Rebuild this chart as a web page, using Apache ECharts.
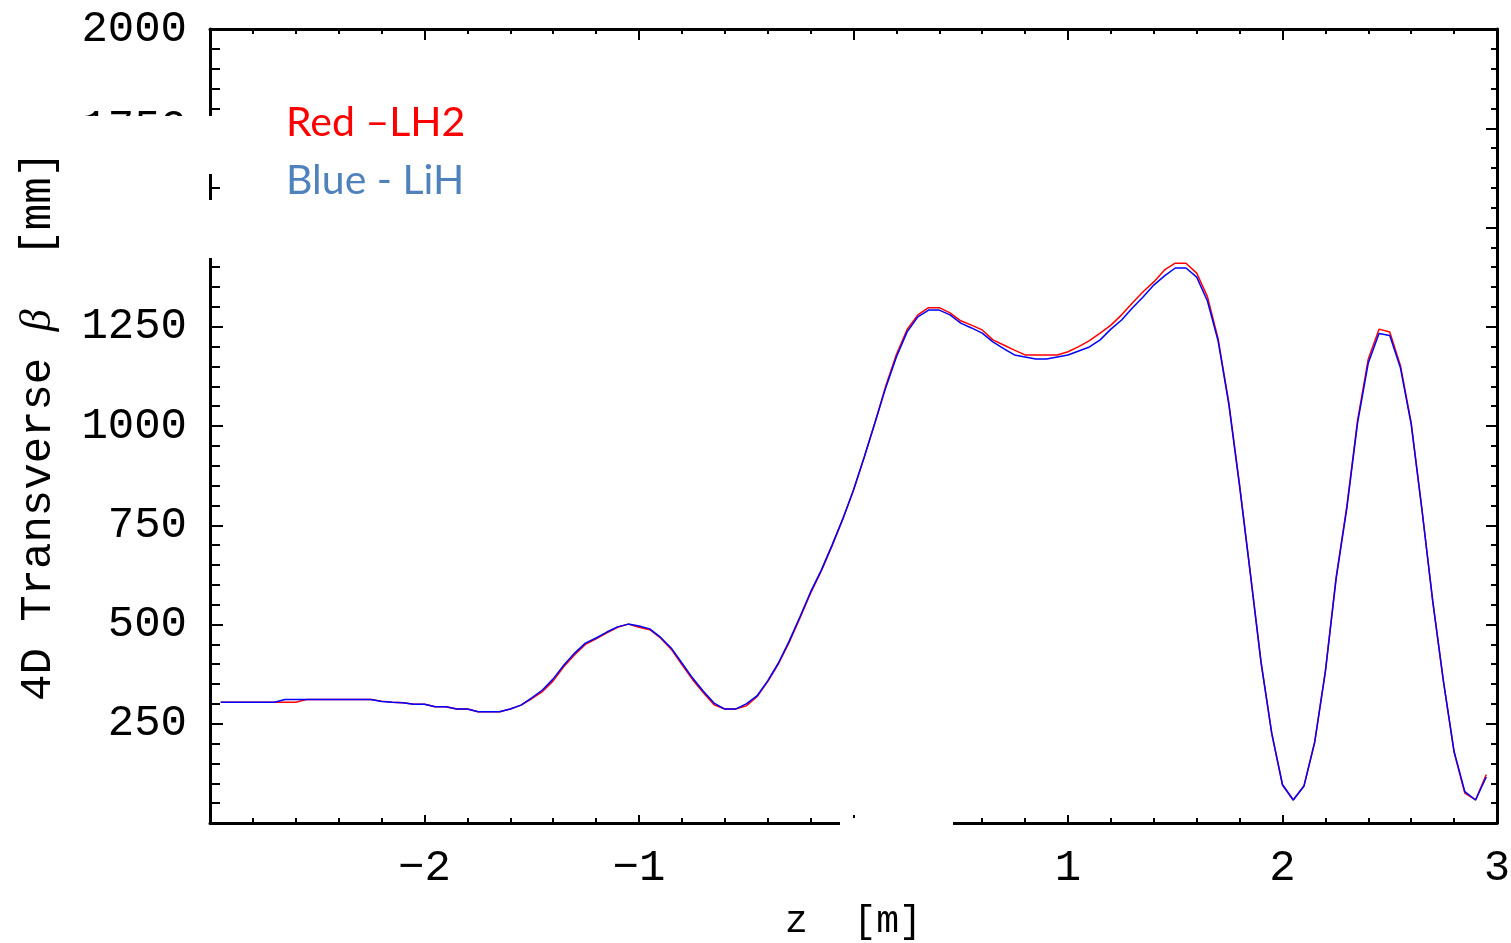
<!DOCTYPE html>
<html>
<head>
<meta charset="utf-8">
<script src="https://cdn.jsdelivr.net/npm/echarts@6/dist/echarts.min.js"></script>
<style>
  html, body { margin: 0; padding: 0; background: #fff; }
  #chart { width: 1511px; height: 943px; }
</style>
</head>
<body>
<div id="chart"></div>
<script>
// z positions [m]
const zValues = [
  -2.95, -2.90, -2.85, -2.80, -2.75, -2.70, -2.65, -2.60, -2.55, -2.50,
  -2.45, -2.40, -2.35, -2.30, -2.25, -2.20, -2.15, -2.10, -2.05, -2.00,
  -1.95, -1.90, -1.85, -1.80, -1.75, -1.70, -1.65, -1.60, -1.55, -1.50,
  -1.45, -1.40, -1.35, -1.30, -1.25, -1.20, -1.15, -1.10, -1.05, -1.00,
  -0.95, -0.90, -0.85, -0.80, -0.75, -0.70, -0.65, -0.60, -0.55, -0.50,
  -0.45, -0.40, -0.35, -0.30, -0.25, -0.20, -0.15, -0.10, -0.05, 0.00,
  0.05, 0.10, 0.15, 0.20, 0.25, 0.30, 0.35, 0.40, 0.45, 0.50,
  0.55, 0.60, 0.65, 0.70, 0.75, 0.80, 0.85, 0.90, 0.95, 1.00,
  1.05, 1.10, 1.15, 1.20, 1.25, 1.30, 1.35, 1.40, 1.45, 1.50,
  1.55, 1.60, 1.65, 1.70, 1.75, 1.80, 1.85, 1.90, 1.95, 2.00,
  2.05, 2.10, 2.15, 2.20, 2.25, 2.30, 2.35, 2.40, 2.45, 2.50,
  2.55, 2.60, 2.65, 2.70, 2.75, 2.80, 2.85, 2.90, 2.95
];

// beta [mm], red = LH2
const betaLH2 = [
  304, 304, 304, 304, 304, 304, 304, 304, 311, 311,
  311, 311, 311, 311, 311, 307, 304, 303, 299, 299,
  293, 293, 287, 287, 280, 280, 280, 287, 297, 313,
  331, 358, 394, 424, 450, 464, 479, 493, 501, 493,
  487, 466, 438, 399, 361, 328, 298, 287, 287, 295,
  318, 356, 401, 455, 516, 579, 635, 698, 765, 838,
  921, 1008, 1100, 1180, 1243, 1280, 1298, 1298, 1285, 1265,
  1254, 1242, 1217, 1204, 1191, 1179, 1179, 1179, 1179, 1187,
  1200, 1215, 1234, 1254, 1280, 1310, 1338, 1363, 1393, 1410,
  1410, 1385, 1326, 1219, 1058, 852, 630, 406, 226, 95,
  58, 93, 204, 384, 619, 798, 1014, 1169, 1244, 1237,
  1152, 1008, 791, 561, 358, 178, 75, 58, 122
];

// beta [mm], blue = LiH
const betaLiH = [
  304, 304, 304, 304, 304, 304, 311, 311, 311, 311,
  311, 311, 311, 311, 311, 306, 304, 303, 299, 299,
  293, 293, 287, 287, 280, 280, 280, 287, 297, 315,
  335, 363, 398, 428, 453, 466, 481, 494, 501, 496,
  489, 468, 441, 403, 365, 332, 302, 287, 287, 300,
  320, 358, 403, 458, 519, 582, 637, 700, 766, 839,
  922, 1008, 1096, 1174, 1237, 1275, 1292, 1292, 1280, 1259,
  1247, 1234, 1212, 1195, 1179, 1174, 1169, 1169, 1174, 1179,
  1189, 1199, 1217, 1244, 1267, 1297, 1325, 1355, 1378, 1398,
  1398, 1375, 1315, 1214, 1054, 848, 628, 404, 225, 97,
  58, 93, 203, 381, 615, 793, 1008, 1159, 1233, 1228,
  1146, 1004, 789, 560, 358, 180, 79, 58, 116
];

const xTickLabels = ['', '\u22122', '\u22121', '0', '1', '2', '3'];
const yTickLabels = ['', '250', '500', '750', '1000', '1250', '1500', '1750', '2000'];

const monoFont = '"Liberation Mono", "DejaVu Sans Mono", monospace';

function frameLine(w) {
  return { show: true, onZero: false, lineStyle: { color: '#000', width: w } };
}

const chart = echarts.init(document.getElementById('chart'));
chart.setOption({
  animation: false,
  backgroundColor: '#fff',
  grid: {
    left: 210, top: 29, width: 1287, height: 794,
    containLabel: false,
    outerBoundsMode: 'none'
  },
  xAxis: [{
    type: 'value',
    position: 'bottom',
    min: -3, max: 3, interval: 1,
    axisLine: frameLine(3),
    axisTick: { inside: true, length: 8, lineStyle: { color: '#000', width: 2 } },
    minorTick: { show: true, splitNumber: 5, length: 5, lineStyle: { color: '#000', width: 2 } },
    splitLine: { show: false },
    axisLabel: {
      margin: 23,
      fontFamily: monoFont,
      fontSize: 44,
      color: '#000',
      formatter: v => xTickLabels[Math.round(v) + 3]
    },
    name: 'z  [m]',
    nameLocation: 'middle',
    nameGap: 80,
    nameTextStyle: { fontFamily: monoFont, fontSize: 38, color: '#000' }
  }, {
    type: 'value',
    position: 'top',
    min: -3, max: 3, interval: 1,
    axisLine: frameLine(3),
    axisTick: { inside: true, length: 11, lineStyle: { color: '#000', width: 2 } },
    minorTick: { show: true, splitNumber: 5, length: 5, lineStyle: { color: '#000', width: 2 } },
    splitLine: { show: false },
    axisLabel: { show: false }
  }],
  yAxis: [{
    type: 'value',
    position: 'left',
    min: 0, max: 2000, interval: 250,
    axisLine: frameLine(3),
    axisTick: { inside: true, length: 13, lineStyle: { color: '#000', width: 2 } },
    minorTick: { show: true, splitNumber: 5, length: 10, lineStyle: { color: '#000', width: 2 } },
    splitLine: { show: false },
    axisLabel: {
      margin: 23,
      fontFamily: monoFont,
      fontSize: 44,
      color: '#000',
      formatter: v => yTickLabels[Math.round(v / 250)]
    },
    name: '4D Transverse {b|\u03b2}  [mm]',
    nameLocation: 'middle',
    nameGap: 150,
    nameTextStyle: {
      fontFamily: monoFont, fontSize: 44, color: '#000',
      rich: { b: { fontFamily: '"Liberation Serif", "DejaVu Serif", serif', fontStyle: 'italic', fontSize: 44, color: '#000' } }
    }
  }, {
    type: 'value',
    position: 'right',
    min: 0, max: 2000, interval: 250,
    axisLine: frameLine(3),
    axisTick: { inside: true, length: 11, lineStyle: { color: '#000', width: 2 } },
    minorTick: { show: true, splitNumber: 5, length: 6, lineStyle: { color: '#000', width: 2 } },
    splitLine: { show: false },
    axisLabel: { show: false }
  }],
  series: [{
    name: 'LH2',
    type: 'line',
    xAxisIndex: 0, yAxisIndex: 0,
    data: zValues.map((z, i) => [z, betaLH2[i]]),
    showSymbol: false,
    lineStyle: { color: '#ff0000', width: 1.5 },
    itemStyle: { color: '#ff0000' },
    z: 3
  }, {
    name: 'LiH',
    type: 'line',
    xAxisIndex: 0, yAxisIndex: 0,
    data: zValues.map((z, i) => [z, betaLiH[i]]),
    showSymbol: false,
    lineStyle: { color: '#0000ff', width: 1.5 },
    itemStyle: { color: '#0000ff' },
    z: 4
  }],
  graphic: [
    // pasted text boxes hide part of the left axis and the 0 tick label
    { type: 'rect', z: 100, shape: { x: 68, y: 116, width: 412, height: 58 }, style: { fill: '#fff' } },
    { type: 'rect', z: 100, shape: { x: 68, y: 200, width: 412, height: 58 }, style: { fill: '#fff' } },
    { type: 'rect', z: 100, shape: { x: 840, y: 818, width: 113, height: 79 }, style: { fill: '#fff' } },
    { type: 'text', z: 101, x: 286, y: 123,
      style: { text: 'Red \u2013LH2', font: '41px Lato', fill: '#ff0000', verticalAlign: 'middle' } },
    { type: 'text', z: 101, x: 286, y: 181,
      style: { text: 'Blue - LiH', font: '41px Lato', fill: '#4f81bd', verticalAlign: 'middle' } }
  ]
});
</script>
</body>
</html>
